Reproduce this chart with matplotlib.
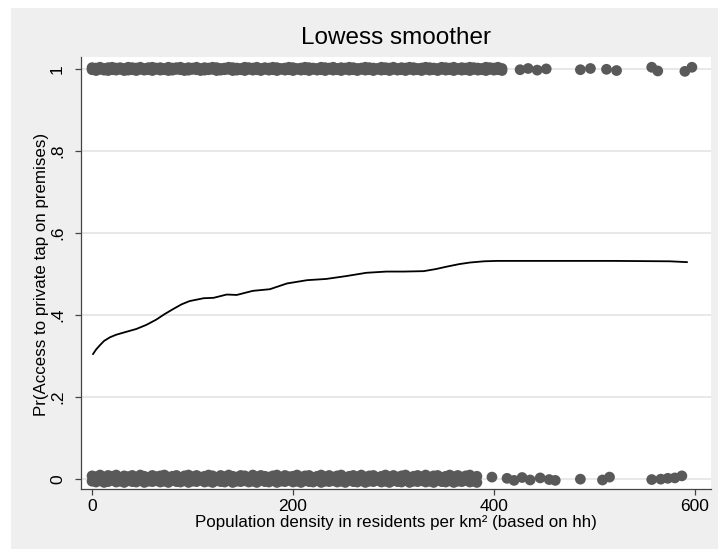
import matplotlib
matplotlib.use("Agg")
import matplotlib.pyplot as plt
from matplotlib.patches import Rectangle
from matplotlib import font_manager

# Outcome = 1 (private tap). Dense part: (density, upper jitter, lower jitter) in thousandths
yes_dense = [
    (0, 3, -2), (4, 2, -4), (8, 4, -1), (12, 1, -3), (16, 3, -4), (20, 4, -2), (24, 2, -3), (28, 3, -1),
    (32, 1, -4), (36, 4, -3), (40, 3, -2), (44, 2, -4), (48, 4, -1), (52, 1, -3), (56, 3, -2), (60, 4, -4),
    (64, 2, -1), (68, 3, -3), (72, 1, -2), (76, 4, -4), (80, 2, -3), (84, 3, -1), (88, 4, -2), (92, 1, -4),
    (96, 3, -3), (100, 2, -1), (104, 4, -2), (108, 1, -4), (112, 3, -3), (116, 2, -2), (120, 4, -1),
    (124, 3, -4), (128, 1, -3), (132, 2, -2), (136, 4, -1), (140, 3, -4), (144, 2, -3), (148, 1, -2),
    (152, 4, -4), (156, 3, -1), (160, 2, -3), (164, 4, -2), (168, 1, -4), (172, 3, -1), (176, 2, -3),
    (180, 4, -2), (184, 3, -4), (188, 1, -1), (192, 2, -3), (196, 4, -2), (200, 3, -4), (204, 1, -1),
    (208, 2, -3), (212, 4, -2), (216, 3, -4), (220, 2, -1), (224, 1, -3), (228, 4, -2), (232, 3, -4),
    (236, 2, -1), (240, 4, -3), (244, 1, -2), (248, 3, -4), (252, 2, -1), (256, 4, -3), (260, 3, -2),
    (264, 1, -4), (268, 2, -1), (272, 4, -3), (276, 3, -2), (280, 2, -4), (284, 1, -1), (288, 4, -3),
    (292, 3, -2), (296, 2, -4), (300, 4, -1), (304, 1, -3), (308, 3, -2), (312, 2, -4), (316, 4, -1),
    (320, 3, -3), (324, 1, -2), (328, 2, -4), (332, 4, -1), (336, 3, -3), (340, 2, -2), (344, 1, -4),
    (348, 4, -1), (352, 3, -3), (356, 2, -2), (360, 4, -4), (364, 1, -1), (368, 3, -3), (372, 2, -2),
    (376, 4, -4), (380, 3, -1), (384, 2, -3), (388, 1, -2), (392, 4, -4), (396, 3, -1), (400, 2, -3),
    (404, 4, -2), (408, 1, -4),
]
# Outcome = 1, isolated high-density households: (density, jitter)
yes_sparse = [(426, -2), (434, 1), (443, -3), (452, 0), (486, -2), (496, 1), (512, -1), (522, -4),
              (557, 4), (563, -5), (590, -6), (597, 4)]

# Outcome = 0 (no private tap)
no_dense = [
    (0, 8, -5), (4, 6, -7), (8, 10, -4), (12, 5, -8), (16, 9, -6), (20, 7, -3), (24, 10, -7), (28, 4, -5),
    (32, 8, -8), (36, 6, -4), (40, 9, -6), (44, 5, -7), (48, 10, -3), (52, 7, -8), (56, 4, -5), (60, 9, -6),
    (64, 6, -4), (68, 8, -7), (72, 10, -5), (76, 5, -8), (80, 7, -3), (84, 9, -6), (88, 4, -7), (92, 8, -4),
    (96, 10, -8), (100, 6, -5), (104, 9, -6), (108, 5, -3), (112, 7, -7), (116, 10, -5), (120, 8, -8),
    (124, 4, -4), (128, 9, -6), (132, 6, -7), (136, 10, -3), (140, 7, -8), (144, 5, -5), (148, 9, -6),
    (152, 8, -4), (156, 4, -7), (160, 10, -5), (164, 6, -8), (168, 9, -3), (172, 7, -6), (176, 5, -7),
    (180, 8, -4), (184, 10, -8), (188, 4, -5), (192, 9, -6), (196, 6, -3), (200, 7, -7), (204, 10, -5),
    (208, 5, -8), (212, 8, -4), (216, 9, -6), (220, 4, -7), (224, 7, -3), (228, 10, -8), (232, 6, -5),
    (236, 9, -6), (240, 5, -4), (244, 8, -7), (248, 10, -5), (252, 4, -8), (256, 7, -3), (260, 9, -6),
    (264, 6, -7), (268, 10, -4), (272, 5, -8), (276, 8, -5), (280, 9, -6), (284, 4, -3), (288, 7, -7),
    (292, 10, -5), (296, 6, -8), (300, 9, -4), (304, 5, -6), (308, 8, -7), (312, 10, -3), (316, 4, -8),
    (320, 7, -5), (324, 9, -6), (328, 6, -4), (332, 10, -7), (336, 5, -5), (340, 8, -8), (344, 9, -3),
    (348, 4, -6), (352, 7, -7), (356, 10, -4), (360, 6, -8), (364, 9, -5), (368, 5, -6), (372, 8, -3),
    (376, 10, -7), (380, 4, -5), (383, 7, -8),
]
no_sparse = [(398, 5), (413, 2), (420, -3), (428, 4), (436, -2), (446, 3), (455, -1), (461, -3),
             (486, 0), (508, -2), (515, 5), (557, -1), (566, 0), (573, 2), (580, 3), (587, 8)]

# Lowess fit
lowess_x = [1, 4, 8, 12, 18, 24, 31, 44, 54, 64, 72, 81, 89, 97, 111, 121, 134, 144, 160, 177,
            194, 214, 233, 253, 273, 293, 310, 330, 342, 353, 365, 376, 390, 403, 452, 519, 575, 592]
lowess_y = [0.305, 0.316, 0.327, 0.337, 0.346, 0.352, 0.357, 0.366, 0.376, 0.389, 0.402, 0.415,
            0.426, 0.434, 0.441, 0.442, 0.450, 0.449, 0.459, 0.463, 0.477, 0.485, 0.488, 0.495,
            0.503, 0.506, 0.506, 0.507, 0.512, 0.518, 0.524, 0.528, 0.531, 0.532, 0.532, 0.532,
            0.531, 0.529]

x_ticks = [0, 200, 400, 600]
y_ticks = [0, 0.2, 0.4, 0.6, 0.8, 1.0]
y_tick_labels = ["0", ".2", ".4", ".6", ".8", "1"]

title = "Lowess smoother"
x_title = "Population density in residents per km\u00b2 (based on hh)"
y_title = "Pr(Access to private tap on premises)"


def row_points(dense, sparse, level):
    xs, ys = [], []
    for x, hi, lo in dense:
        xs += [x, x]
        ys += [level + hi / 1000, level + lo / 1000]
    for x, d in sparse:
        xs.append(x)
        ys.append(level + d / 1000)
    return xs, ys


installed = {f.name for f in font_manager.fontManager.ttflist}
family = "Liberation Sans" if "Liberation Sans" in installed else "DejaVu Sans"
plt.rcParams["font.family"] = [family, "DejaVu Sans"]

W, H = 718, 551
fig = plt.figure(figsize=(W / 100, H / 100), dpi=100)
fig.patch.set_facecolor("white")
fig.patches.append(Rectangle((11 / W, 1 - 549 / H), (W - 11) / W, (549 - 8) / H,
                             transform=fig.transFigure, facecolor="#efefef",
                             edgecolor="none", zorder=-10))

ax = fig.add_axes([81 / W, 62 / H, 630 / W, 432 / H])
ax.set_facecolor("white")
ax.set_xlim(-11, 616)
ax.set_ylim(-0.024, 1.029)

marker_color = "#595959"
for dense, sparse, level in ((yes_dense, yes_sparse, 1.0), (no_dense, no_sparse, 0.0)):
    xs, ys = row_points(dense, sparse, level)
    ax.scatter(xs, ys, s=60, color=marker_color, edgecolors="none", zorder=3)
ax.plot(lowess_x, lowess_y, color="black", lw=1.3, zorder=4)

ax.set_xticks(x_ticks)
ax.set_yticks(y_ticks)
ax.set_yticklabels(y_tick_labels)
for lab in ax.get_yticklabels():
    lab.set_rotation(90)
    lab.set_verticalalignment("center")

ax.grid(axis="y", color="#e4e4e4", lw=1.2, zorder=0)
ax.set_axisbelow(True)
for side in ("top", "right"):
    ax.spines[side].set_visible(False)
for side in ("left", "bottom"):
    ax.spines[side].set_color("#444444")
    ax.spines[side].set_linewidth(0.9)

ax.tick_params(axis="x", length=4.5, width=0.9, color="#444444", labelsize=12.5, pad=2.5)
ax.tick_params(axis="y", length=4.5, width=0.9, color="#444444", labelsize=12.5, pad=7)

fig.text(396 / W, 1 - 38 / H, title, ha="center", va="center", fontsize=17.5)
fig.text(396 / W, 1 - 523 / H, x_title, ha="center", va="center", fontsize=12.2)
fig.text(42 / W, 1 - 274 / H, y_title, ha="center", va="center", rotation=90, fontsize=12.2)

fig.savefig("out.png", dpi=100)
